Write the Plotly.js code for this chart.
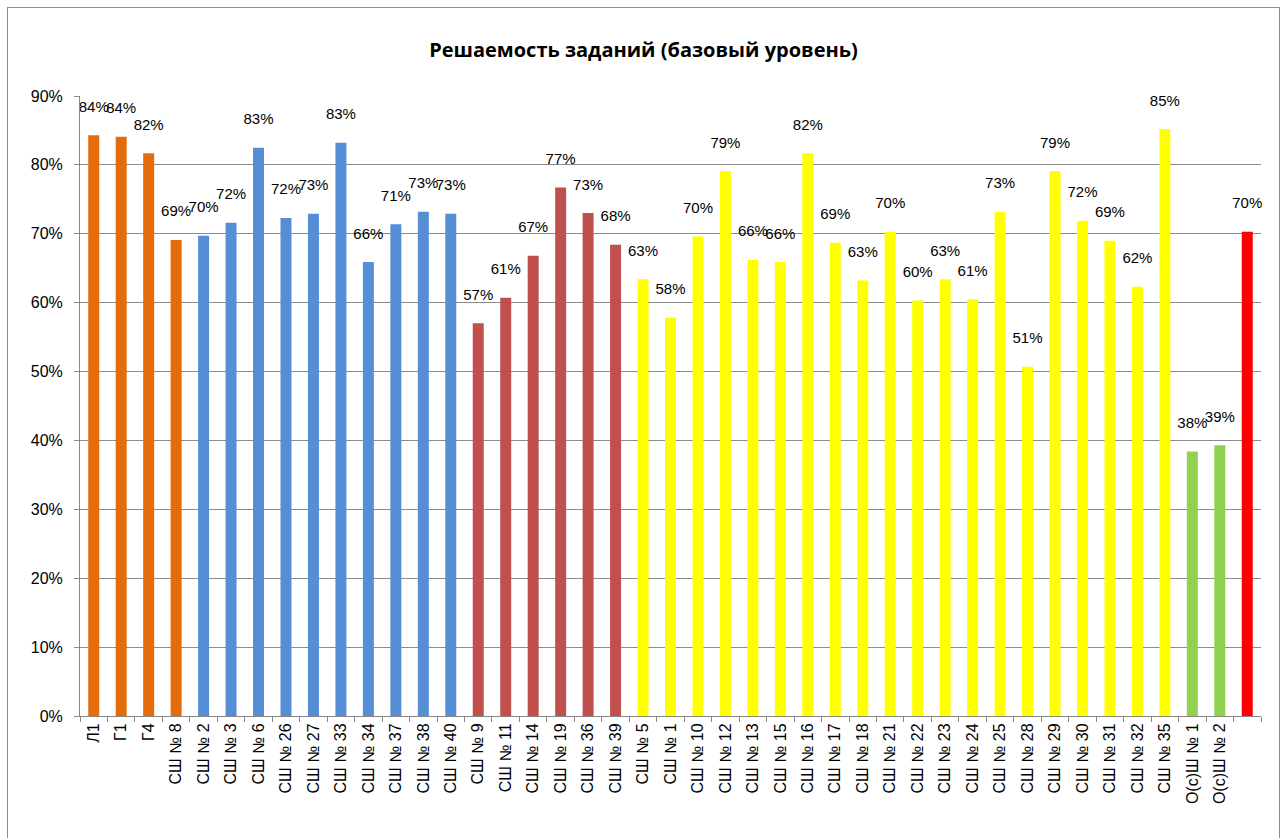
<!DOCTYPE html>
<html>
<head>
<meta charset="utf-8">
<script src="https://cdn.plot.ly/plotly-3.0.1.min.js"></script>
<style>
html,body{margin:0;padding:0;background:#fff;overflow:hidden;}
#wrap{position:absolute;left:7px;top:7px;width:1273px;height:840px;border:1px solid #8c8c8c;box-sizing:border-box;}
#chart{width:1271px;height:838px;}
</style>
</head>
<body>
<div id="wrap"><div id="chart"></div></div>
<script>
const categories = ["Л1","Г1","Г4","СШ № 8","СШ № 2","СШ № 3","СШ № 6","СШ № 26","СШ № 27","СШ № 33","СШ № 34","СШ № 37","СШ № 38","СШ № 40","СШ № 9","СШ № 11","СШ № 14","СШ № 19","СШ № 36","СШ № 39","СШ № 5","СШ № 1","СШ № 10","СШ № 12","СШ № 13","СШ № 15","СШ № 16","СШ № 17","СШ № 18","СШ № 21","СШ № 22","СШ № 23","СШ № 24","СШ № 25","СШ № 28","СШ № 29","СШ № 30","СШ № 31","СШ № 32","СШ № 35","О(с)Ш № 1","О(с)Ш № 2","  "];
const values = [0.843,0.841,0.817,0.691,0.697,0.716,0.825,0.723,0.729,0.832,0.659,0.714,0.732,0.729,0.570,0.607,0.668,0.767,0.730,0.684,0.634,0.578,0.696,0.791,0.662,0.659,0.817,0.687,0.632,0.703,0.603,0.634,0.605,0.732,0.507,0.791,0.719,0.690,0.623,0.852,0.384,0.393,0.703];
const groupColors = {orange:"#E46C0A", blue:"#558ED5", brick:"#C0504D", yellow:"#FFFF00", green:"#92D050", red:"#FF0000"};
const groups = ["orange","orange","orange","orange","blue","blue","blue","blue","blue","blue","blue","blue","blue","blue","brick","brick","brick","brick","brick","brick","yellow","yellow","yellow","yellow","yellow","yellow","yellow","yellow","yellow","yellow","yellow","yellow","yellow","yellow","yellow","yellow","yellow","yellow","yellow","yellow","green","green","red"];
const yTicks = [0,0.1,0.2,0.3,0.4,0.5,0.6,0.7,0.8,0.9];

const trace = {
  type: "bar",
  x: categories,
  y: values,
  marker: {color: groups.map(g=>groupColors[g])},
  text: values.map(v=>Math.round(v*100)+"%<br><span style='font-size:4px'> </span>"),
  textposition: "outside",
  constraintext: "none",
  cliponaxis: false,
  textfont: {family:"Liberation Sans, Arial, sans-serif", size:15, color:"#000"},
  hoverinfo: "x+y"
};

const layout = {
  width: 1271, height: 838,
  margin: {l:72, r:18, t:88, b:130},
  paper_bgcolor: "#fff", plot_bgcolor: "#fff",
  title: {text:"<b>Решаемость заданий (базовый уровень)</b>", x:0.5, xanchor:"center", y:0.95, yanchor:"middle",
          font:{family:"Open Sans, Liberation Sans, sans-serif", size:20, color:"#000"}},
  bargap: 0.6,
  showlegend: false,
  xaxis: {type:"category", tickangle:-90, tickfont:{family:"Liberation Sans, Arial, sans-serif", size:16, color:"#000"},
          showline:true, linecolor:"#888", linewidth:1, ticks:"outside", tickson:"boundaries", ticklen:5, tickcolor:"#888",
          showgrid:false, automargin:false},
  yaxis: {range:[0,0.9], tickvals:yTicks, ticktext:yTicks.map(v=>Math.round(v*100)+"%"),
          tickfont:{family:"Liberation Sans, Arial, sans-serif", size:16, color:"#000"},
          ticklabelstandoff: 8,
          showline:true, linecolor:"#888", linewidth:1, ticks:"outside", ticklen:5, tickcolor:"#888",
          showgrid:true, gridcolor:"#8c8c8c", gridwidth:1, zeroline:false, automargin:false}
};

Plotly.newPlot("chart", [trace], layout, {displayModeBar:false, staticPlot:true});
</script>
</body>
</html>
